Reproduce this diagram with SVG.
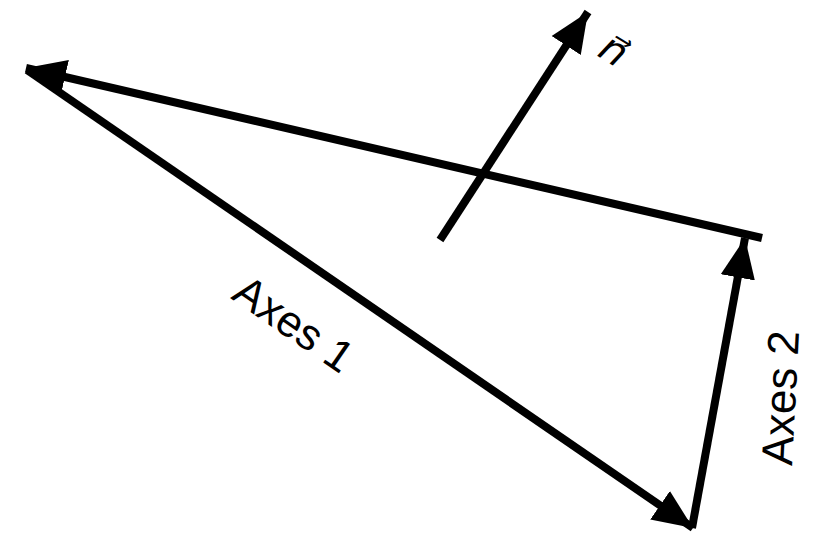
<svg xmlns="http://www.w3.org/2000/svg" width="815" height="533" viewBox="0 0 815 533">
<style>
.ln{stroke:#000;stroke-width:8;fill:none}
.lbl{font-family:"Liberation Sans",Arial,sans-serif;font-size:44px;fill:#000}
</style>
<defs>
<marker id="ah" markerUnits="userSpaceOnUse" markerWidth="40" markerHeight="40" viewBox="0 0 30 26" refX="30" refY="13" orient="auto">
<path d="M0,0 L30,13 L0,26 Z" fill="#000"/>
</marker>
</defs>
<rect width="815" height="533" fill="#fff"/>
<g id="connectors">
<line class="ln" x1="762" y1="238" x2="26" y2="68" marker-end="url(#ah)"/>
<line class="ln" x1="27" y1="70" x2="693" y2="528" marker-end="url(#ah)"/>
<line class="ln" x1="692" y1="528" x2="745" y2="238" marker-end="url(#ah)"/>
<line class="ln" x1="440" y1="240" x2="588" y2="12" marker-end="url(#ah)"/>
</g>
<g id="label-axes1">
<text class="lbl" transform="translate(230,298) rotate(34.6)">Axes 1</text>
</g>
<g id="label-axes2">
<text class="lbl" transform="translate(792,466) rotate(-87)">Axes 2</text>
</g>
<g id="label-n">
<text transform="translate(596,55) rotate(32)" style="font-family:'DejaVu Sans',sans-serif;font-style:italic;font-size:40px">n⃗</text>
</g>
</svg>
